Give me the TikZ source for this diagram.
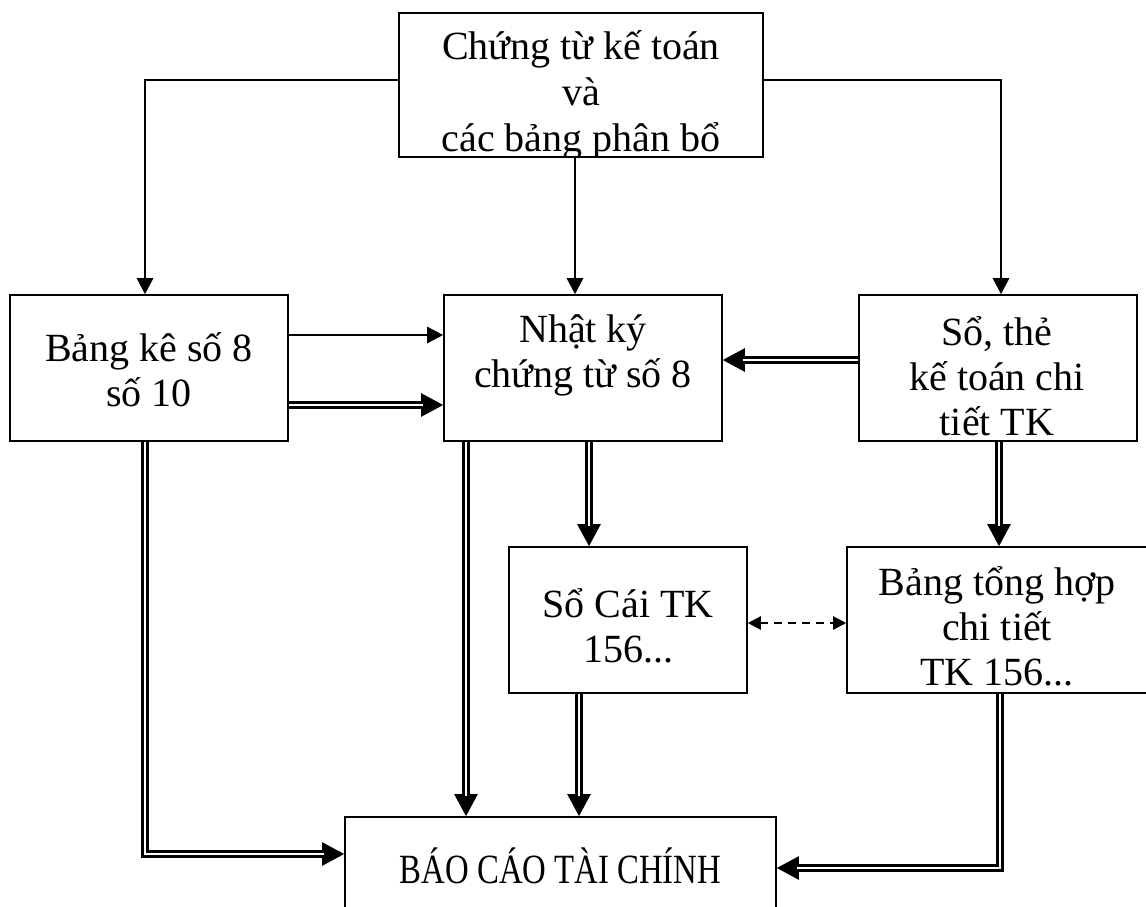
\documentclass[tikz,border=0pt]{standalone}
\usepackage{fontspec}
\setmainfont{Liberation Serif}
\usetikzlibrary{arrows.meta,calc}
\newcommand\dblar[1]{\draw[tipd] #1; \draw[dbl] #1;}
\begin{document}
\begin{tikzpicture}[x=1pt,y=-1pt,
 box/.style={draw, line width=1.6pt, inner sep=0pt},
 txt/.style={align=center, font=\fontsize{40}{45}\selectfont, inner sep=0pt},
 sgl/.style={line width=2.6pt, -{Triangle[length=16pt,width=16pt]}},
 tipd/.style={line width=2.4pt, -{Triangle[length=22pt,width=23pt]}},
 dbl/.style={double, line width=2.4pt, double distance=2.6pt, shorten >=20pt},
 dsh/.style={line width=2.4pt, dash pattern=on 8pt off 6pt, {Triangle[length=13pt,width=13pt]}-{Triangle[length=13pt,width=13pt]}}]
\useasboundingbox (0,0) rectangle (1146,906);
% boxes
\node[box, minimum width=364pt, minimum height=144pt] (top) at (581,85) {};
\node[box, minimum width=278pt, minimum height=146pt] (bk) at (149,368) {};
\node[box, minimum width=278pt, minimum height=146pt] (nk) at (583,368) {};
\node[box, minimum width=278pt, minimum height=146pt] (st) at (998,368) {};
\node[box, minimum width=238pt, minimum height=146pt] (sc) at (628,620) {};
\node[box, minimum width=301pt, minimum height=146pt] (bth) at (997.5,620) {};
\node[box, minimum width=431pt, minimum height=96pt] (bctc) at (560.5,865) {};
% texts
\begin{scope}
\clip (top.south west) rectangle (top.north east);
\node[txt, font=\fontsize{40}{46}\selectfont] (ttop) at (581,95) {Chứng từ kế toán\\và\\các bảng phân bổ};
\end{scope}
\node[txt] (tbk) at (149,370) {Bảng kê số 8\\số 10};
\node[txt] (tnk) at (583,355) {Nhật ký\\chứng từ số 8};
\node[txt] (tst) at (997,376) {Sổ, thẻ\\kế toán chi\\tiết TK};
\node[txt] (tsc) at (628,626) {Sổ Cái TK\\156...};
\node[txt] (tbth) at (997,626) {Bảng tổng hợp\\chi tiết\\TK 156...};
\node[txt] (tbctc) at (560.5,866) {\scalebox{0.82}[1.04]{BÁO CÁO TÀI CHÍNH}};
% single arrows
\draw[sgl] ([yshift=5pt]top.west) -| ([xshift=-4pt]bk.north);
\draw[sgl] ([xshift=-6pt]top.south) -- ([xshift=-6pt]top.south |- nk.north);
\draw[sgl] ([yshift=5pt]top.east) -| ([xshift=3pt]st.north);
\draw[sgl] ([yshift=33pt]bk.east) -- ([yshift=33pt]nk.west);
% double arrows
\dblar{([yshift=-37pt]bk.east) -- ([yshift=-37pt]nk.west)}
\dblar{([yshift=8pt]st.west) -- ([yshift=8pt]nk.east)}
\dblar{([xshift=6pt]nk.south) -- ([xshift=6pt]nk.south |- sc.north)}
\dblar{([xshift=-117pt]nk.south) -- ([xshift=-117pt]nk.south |- bctc.north)}
\dblar{([xshift=-49pt]sc.south) -- ([xshift=-49pt]sc.south |- bctc.north)}
\dblar{([xshift=1pt]st.south) -- ([xshift=1pt]st.south |- bth.north)}
\dblar{([xshift=-4pt]bk.south) |- ([yshift=11pt]bctc.west)}
\dblar{([xshift=2.5pt]bth.south) |- ([yshift=-3pt]bctc.east)}
% dashed
\draw[dsh] ([yshift=-3pt]sc.east) -- ([yshift=-3pt]bth.west);
\end{tikzpicture}
\end{document}
